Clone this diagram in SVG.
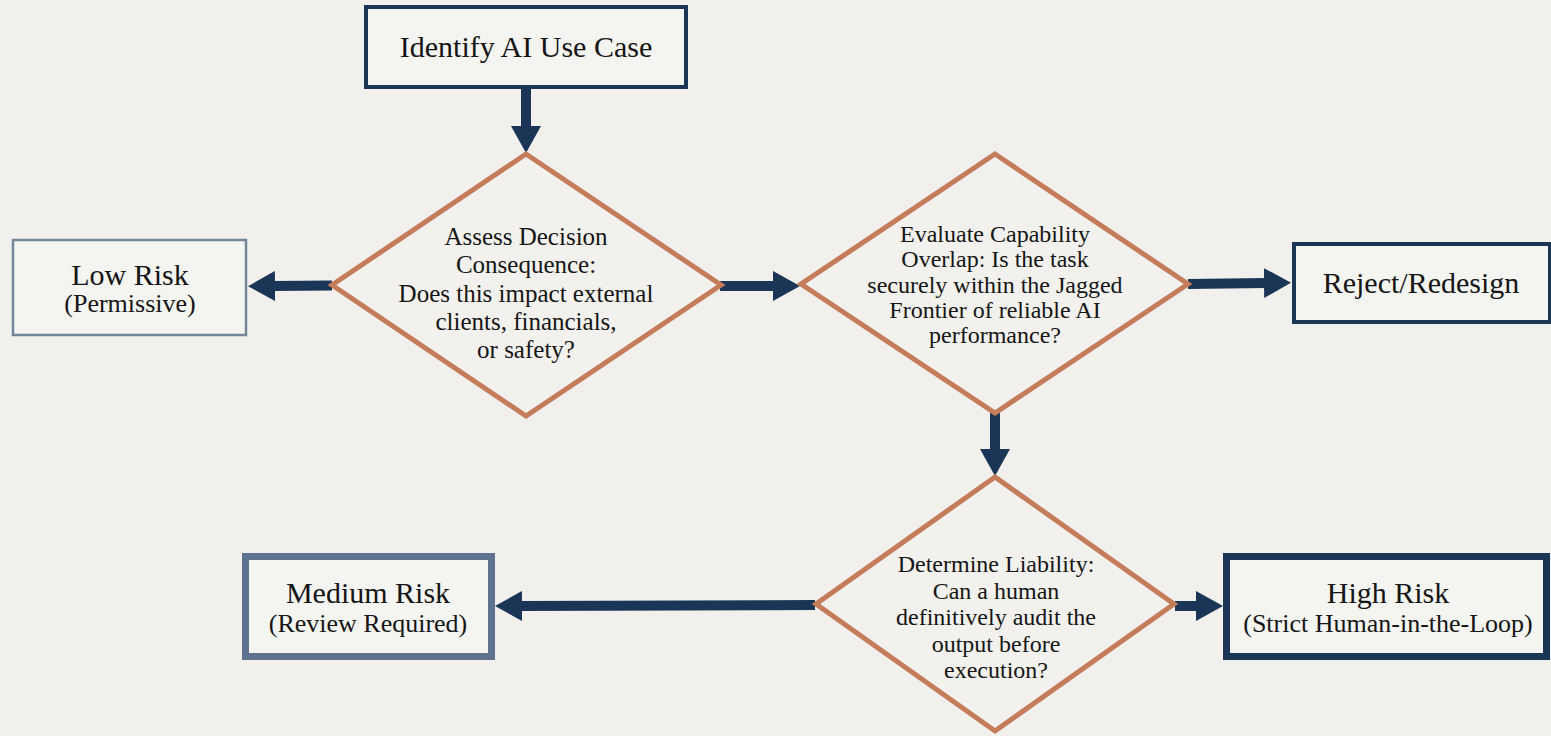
<svg xmlns="http://www.w3.org/2000/svg" width="1551" height="736" viewBox="0 0 1551 736">
<defs>
<style>
.bg{fill:#f1f0ec}
.box{fill:#f4f4f1}
.dia{fill:#f2f1ed;stroke:#c47c5a;stroke-width:5;stroke-linejoin:miter}
.t{font-family:"Liberation Serif","Times New Roman",serif;fill:#151515;text-anchor:middle}
.title{font-size:30px}
.sub{font-size:26px}
.q{font-size:24px}
.q1{font-size:25px}
.conn{stroke:#1b3556;stroke-width:10;fill:none;marker-end:url(#ah)}
</style>
<marker id="ah" markerUnits="userSpaceOnUse" markerWidth="27" markerHeight="30" refX="2" refY="15" orient="auto">
<path d="M0,0 L27,15 L0,30 z" fill="#1b3556"/>
</marker>
</defs>
<rect class="bg" x="0" y="0" width="1551" height="736"/>

<g id="connectors">
<line class="conn" x1="526" y1="88" x2="526" y2="128"/>
<line class="conn" x1="332" y1="285.5" x2="273" y2="286"/>
<line class="conn" x1="720" y1="286" x2="775" y2="286"/>
<line class="conn" x1="1188" y1="284" x2="1266" y2="283"/>
<line class="conn" x1="995" y1="413" x2="995" y2="451"/>
<line class="conn" x1="815" y1="605" x2="520" y2="606"/>
<line class="conn" x1="1175" y1="606" x2="1198" y2="606"/>
</g>

<g id="identify">
<rect class="box" x="366" y="7" width="320" height="80" stroke="#1b3556" stroke-width="4"/>
<text class="t title" x="526" y="57">Identify AI Use Case</text>
</g>

<g id="assess">
<polygon class="dia" points="526,154 721,285 526,416 332,285"/>
<text class="t q1" x="526" y="245">Assess Decision</text>
<text class="t q1" x="526" y="273.3">Consequence:</text>
<text class="t q1" x="526" y="301.7">Does this impact external</text>
<text class="t q1" x="526" y="330">clients, financials,</text>
<text class="t q1" x="526" y="358.3">or safety?</text>
</g>

<g id="lowrisk">
<rect class="box" x="13" y="240" width="233" height="95" stroke="#74869a" stroke-width="2.5"/>
<text class="t title" x="130" y="285">Low Risk</text>
<text class="t sub" x="130" y="312">(Permissive)</text>
</g>

<g id="evaluate">
<polygon class="dia" points="995,154 1188,284 995,413 801,284"/>
<text class="t q" x="995" y="242">Evaluate Capability</text>
<text class="t q" x="995" y="267.3">Overlap: Is the task</text>
<text class="t q" x="995" y="292.5">securely within the Jagged</text>
<text class="t q" x="995" y="317.8">Frontier of reliable AI</text>
<text class="t q" x="995" y="343">performance?</text>
</g>

<g id="reject">
<rect class="box" x="1294" y="244" width="256" height="78" stroke="#1b3556" stroke-width="4"/>
<text class="t title" x="1421" y="293">Reject/Redesign</text>
</g>

<g id="liability">
<polygon class="dia" points="995,477 1174,604 995,731 816,604"/>
<text class="t q" x="996" y="572">Determine Liability:</text>
<text class="t q" x="996" y="598.5">Can a human</text>
<text class="t q" x="996" y="625">definitively audit the</text>
<text class="t q" x="996" y="651.5">output before</text>
<text class="t q" x="996" y="678">execution?</text>
</g>

<g id="medium">
<rect class="box" x="245.5" y="556.5" width="246" height="100" stroke="#5f7391" stroke-width="7"/>
<text class="t title" x="368" y="603">Medium Risk</text>
<text class="t sub" x="368" y="632">(Review Required)</text>
</g>

<g id="high">
<rect class="box" x="1226.5" y="556.5" width="320" height="100" stroke="#1b3556" stroke-width="7"/>
<text class="t title" x="1388" y="603">High Risk</text>
<text class="t sub" x="1388" y="632">(Strict Human-in-the-Loop)</text>
</g>
</svg>
